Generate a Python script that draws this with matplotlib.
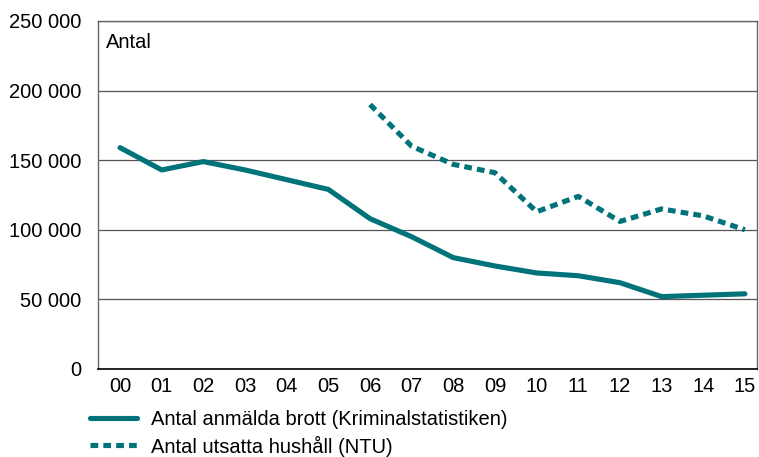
import matplotlib
matplotlib.use("Agg")
import matplotlib.pyplot as plt
from matplotlib.lines import Line2D
from matplotlib.ticker import FuncFormatter

plt.rcParams['font.family'] = ['Liberation Sans', 'DejaVu Sans']

years = ["00", "01", "02", "03", "04", "05", "06", "07", "08", "09", "10", "11", "12", "13", "14", "15"]
reported = [159000, 143000, 149000, 143000, 136000, 129000, 108000, 95000, 80000, 74000, 69000, 67000, 62000, 52000, 53000, 54000]
ntu_years = ["06", "07", "08", "09", "10", "11", "12", "13", "14", "15"]
ntu = [190000, 160000, 147000, 141000, 113000, 124000, 106000, 115000, 110000, 100000]
yticks = [0, 50000, 100000, 150000, 200000, 250000]

color = "#00737A"
lw = 3.7
dots = (0, (1.5, 1.0))
fs = 14.5

fig = plt.figure(figsize=(7.59, 4.57), dpi=100)
ax = fig.add_axes([98/759, 1 - 369/457, (757-98)/759, (369-21)/457])

x = list(range(len(years)))
xn = [years.index(y) for y in ntu_years]
ax.plot(x, reported, color=color, lw=lw, solid_capstyle='round', solid_joinstyle='round', zorder=3)
ax.plot(xn, ntu, color=color, lw=lw, linestyle=dots, zorder=3)

ax.set_ylim(0, 250000)
ax.set_xlim(-0.53, 15.29)
ax.set_yticks(yticks)
ax.yaxis.set_major_formatter(FuncFormatter(lambda v, p: f"{int(v):,}".replace(",", " ")))
ax.set_xticks(x)
ax.set_xticklabels(years)
ax.tick_params(axis='both', length=0, labelsize=fs, colors='black')
ax.tick_params(axis='x', pad=6)
ax.tick_params(axis='y', pad=12)
ax.grid(axis='y', color='#555555', lw=0.9)
for s in ['top', 'right', 'left']:
    ax.spines[s].set_color('#666666')
    ax.spines[s].set_linewidth(1.0)
ax.spines['bottom'].set_color('black')
ax.spines['bottom'].set_linewidth(1.2)
ax.text(0.012, 0.965, "Antal", transform=ax.transAxes, fontsize=fs, va='top', ha='left')

handles = [Line2D([], [], color=color, lw=lw, solid_capstyle='round'),
           Line2D([], [], color=color, lw=lw, linestyle=dots)]
labels = ["Antal anmälda brott (Kriminalstatistiken)", "Antal utsatta hushåll (NTU)"]
fig.legend(handles, labels, loc='upper left', bbox_to_anchor=(90/759, 1 - 410/457),
           frameon=False, fontsize=fs, handlelength=2.35, handletextpad=0.7,
           labelspacing=0.32, borderaxespad=0, borderpad=0)

fig.savefig("out.png", dpi=100)
